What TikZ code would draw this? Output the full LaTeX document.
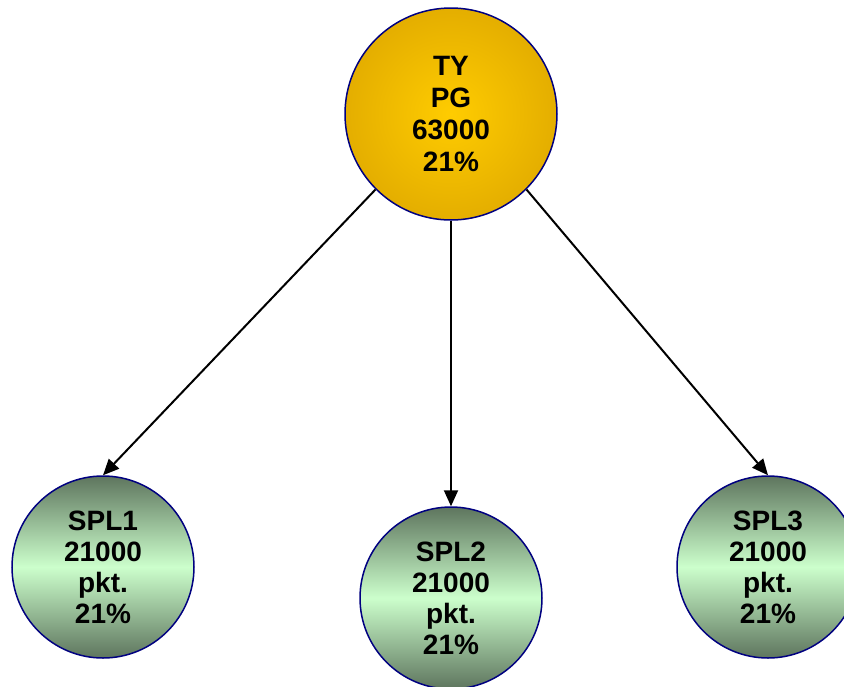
\documentclass[tikz,border=0pt]{standalone}
\usepackage{fontspec}
\setmainfont{Liberation Sans}
\usepackage{tikz}
\usetikzlibrary{arrows.meta}
\usetikzlibrary{shapes}

\definecolor{gold}{RGB}{255,204,0}
\definecolor{darkgold}{RGB}{228,174,0}
\definecolor{lightgreen}{RGB}{204,255,204}
\definecolor{darkgreen}{RGB}{94,117,94}
\definecolor{rim}{RGB}{0,0,128}

\begin{document}
\begin{tikzpicture}[x=1pt,y=-1pt,
  root/.style={circle,draw=rim,line width=1.5pt,minimum size=212pt,inner sep=0pt,
    inner color=gold,outer color=darkgold,align=center,
    font=\bfseries\fontsize{28}{32}\selectfont},
  leaf/.style={circle,draw=rim,line width=1.5pt,minimum size=182pt,inner sep=0pt,
    top color=darkgreen,bottom color=darkgreen,middle color=lightgreen,align=center,
    font=\bfseries\fontsize{28}{31}\selectfont},
  link/.style={line width=2pt,-{Triangle[length=16pt,width=14pt]}}]
 \useasboundingbox (0,0) rectangle (844,686);
 \node[root] (ty) at (451,114) {TY\\PG\\63000\\21\%};
 \node[leaf] (spl1) at (103,567) {SPL1\\21000\\pkt.\\21\%};
 \node[leaf] (spl2) at (451,598) {SPL2\\21000\\pkt.\\21\%};
 \node[leaf] (spl3) at (768,567) {SPL3\\21000\\pkt.\\21\%};
 \draw[link] (ty.225) -- (spl1.north);
 \draw[link] (ty.south) -- (spl2.north);
 \draw[link] (ty.-45) -- (spl3.north);
\end{tikzpicture}
\end{document}
